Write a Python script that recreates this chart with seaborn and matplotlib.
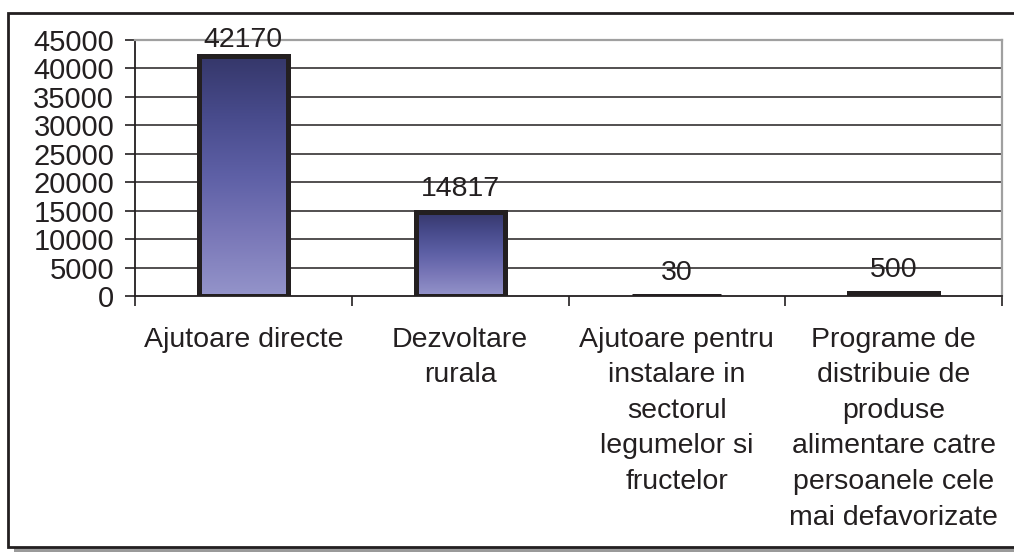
import numpy as np
import pandas as pd
import matplotlib
matplotlib.use("Agg")
import matplotlib.pyplot as plt
import seaborn as sns
from matplotlib.patches import Rectangle
from matplotlib.colors import LinearSegmentedColormap

categories = [
    "Ajutoare directe",
    "Dezvoltare\nrurala",
    "Ajutoare pentru\ninstalare in\nsectorul\nlegumelor si\nfructelor",
    "Programe de\ndistribuie de\nproduse\nalimentare catre\npersoanele cele\nmai defavorizate",
]
values = [42170, 14817, 30, 500]
value_labels = ["42170", "14817", "30", "500"]
yticks = [0, 5000, 10000, 15000, 20000, 25000, 30000, 35000, 40000, 45000]

sns.set_theme(style="white")
plt.rcParams["font.family"] = ["Liberation Sans", "DejaVu Sans"]

W, H = 1014, 552
fig = plt.figure(figsize=(W / 100, H / 100), dpi=100)
fig.patch.set_facecolor("white")

# outer chart frame with shadow
fig.patches.append(Rectangle((14 / W, 1 - 553 / H), 1.1, (553 - 19) / H,
                             transform=fig.transFigure, facecolor="#9a9a9a",
                             edgecolor="none", zorder=-3))
fig.patches.append(Rectangle((8 / W, 1 - 547 / H), 1.1, (547 - 13) / H,
                             transform=fig.transFigure, facecolor="white",
                             edgecolor="#231f20", linewidth=2.0, zorder=-2))

ax = fig.add_axes([135 / W, 1 - 296 / H, 867 / W, 256 / H])
ax.set_zorder(2)
ax.set_facecolor("none")

df = pd.DataFrame({"cat": categories, "val": values})
sns.barplot(data=df, x="cat", y="val", ax=ax, width=0.41,
            facecolor="none", edgecolor="#231f20", linewidth=3.6, zorder=3)

cmap = LinearSegmentedColormap.from_list(
    "grad", ["#9494ca", "#7a78b8", "#5e60a6", "#484b8c", "#35376a"])
grad = np.linspace(0, 1, 256).reshape(-1, 1)
for p in ax.patches:
    x0, y0 = p.get_x(), p.get_y()
    w, h = p.get_width(), p.get_height()
    if h <= 0:
        continue
    im = ax.imshow(grad, cmap=cmap, origin="lower", aspect="auto",
                   extent=[x0, x0 + w, y0, y0 + h], zorder=2)
    im.set_clip_path(p)

ymax = 45000
ax.set_xlim(-0.5, 3.5)
ax.set_ylim(0, ymax)

for i, (v, lab) in enumerate(zip(values, value_labels)):
    if v > 0.9 * ymax:
        # label kept inside the plot area (centred on its top edge)
        ax.annotate(lab, (i, ymax), ha="center", va="center", fontsize=20.5,
                    color="#231f20", zorder=5, annotation_clip=False)
    else:
        ax.annotate(lab, (i, v), xytext=(0, 7), textcoords="offset points",
                    ha="center", va="bottom", fontsize=20.5, color="#231f20",
                    zorder=5, annotation_clip=False)

# gridlines
for t in yticks[1:-1]:
    ax.axhline(t, color="#231f20", lw=1.1, zorder=1)

ax.set_yticks(yticks)
ax.set_yticklabels([str(t) for t in yticks], fontsize=21, color="#231f20")
ax.set_xticks([0, 1, 2, 3])
ax.set_xticklabels(categories, fontsize=20.5, color="#231f20", linespacing=1.48,
                   va="top")
ax.tick_params(axis="x", which="major", length=0, pad=22)
ax.set_xticks([-0.5, 0.5, 1.5, 2.5, 3.5], minor=True)
ax.tick_params(axis="x", which="minor", length=7, width=1.2, color="#231f20",
               direction="out", bottom=True)
ax.tick_params(axis="y", length=7, width=1.2, color="#231f20", direction="out",
               pad=8, left=True)
ax.set_xlabel("")
ax.set_ylabel("")

for s in ["left", "bottom"]:
    ax.spines[s].set_color("#231f20")
    ax.spines[s].set_linewidth(1.3)
for s in ["top", "right"]:
    ax.spines[s].set_visible(True)
    ax.spines[s].set_color("#a0a0a0")
    ax.spines[s].set_linewidth(1.6)

fig.savefig("out.png", dpi=100)
